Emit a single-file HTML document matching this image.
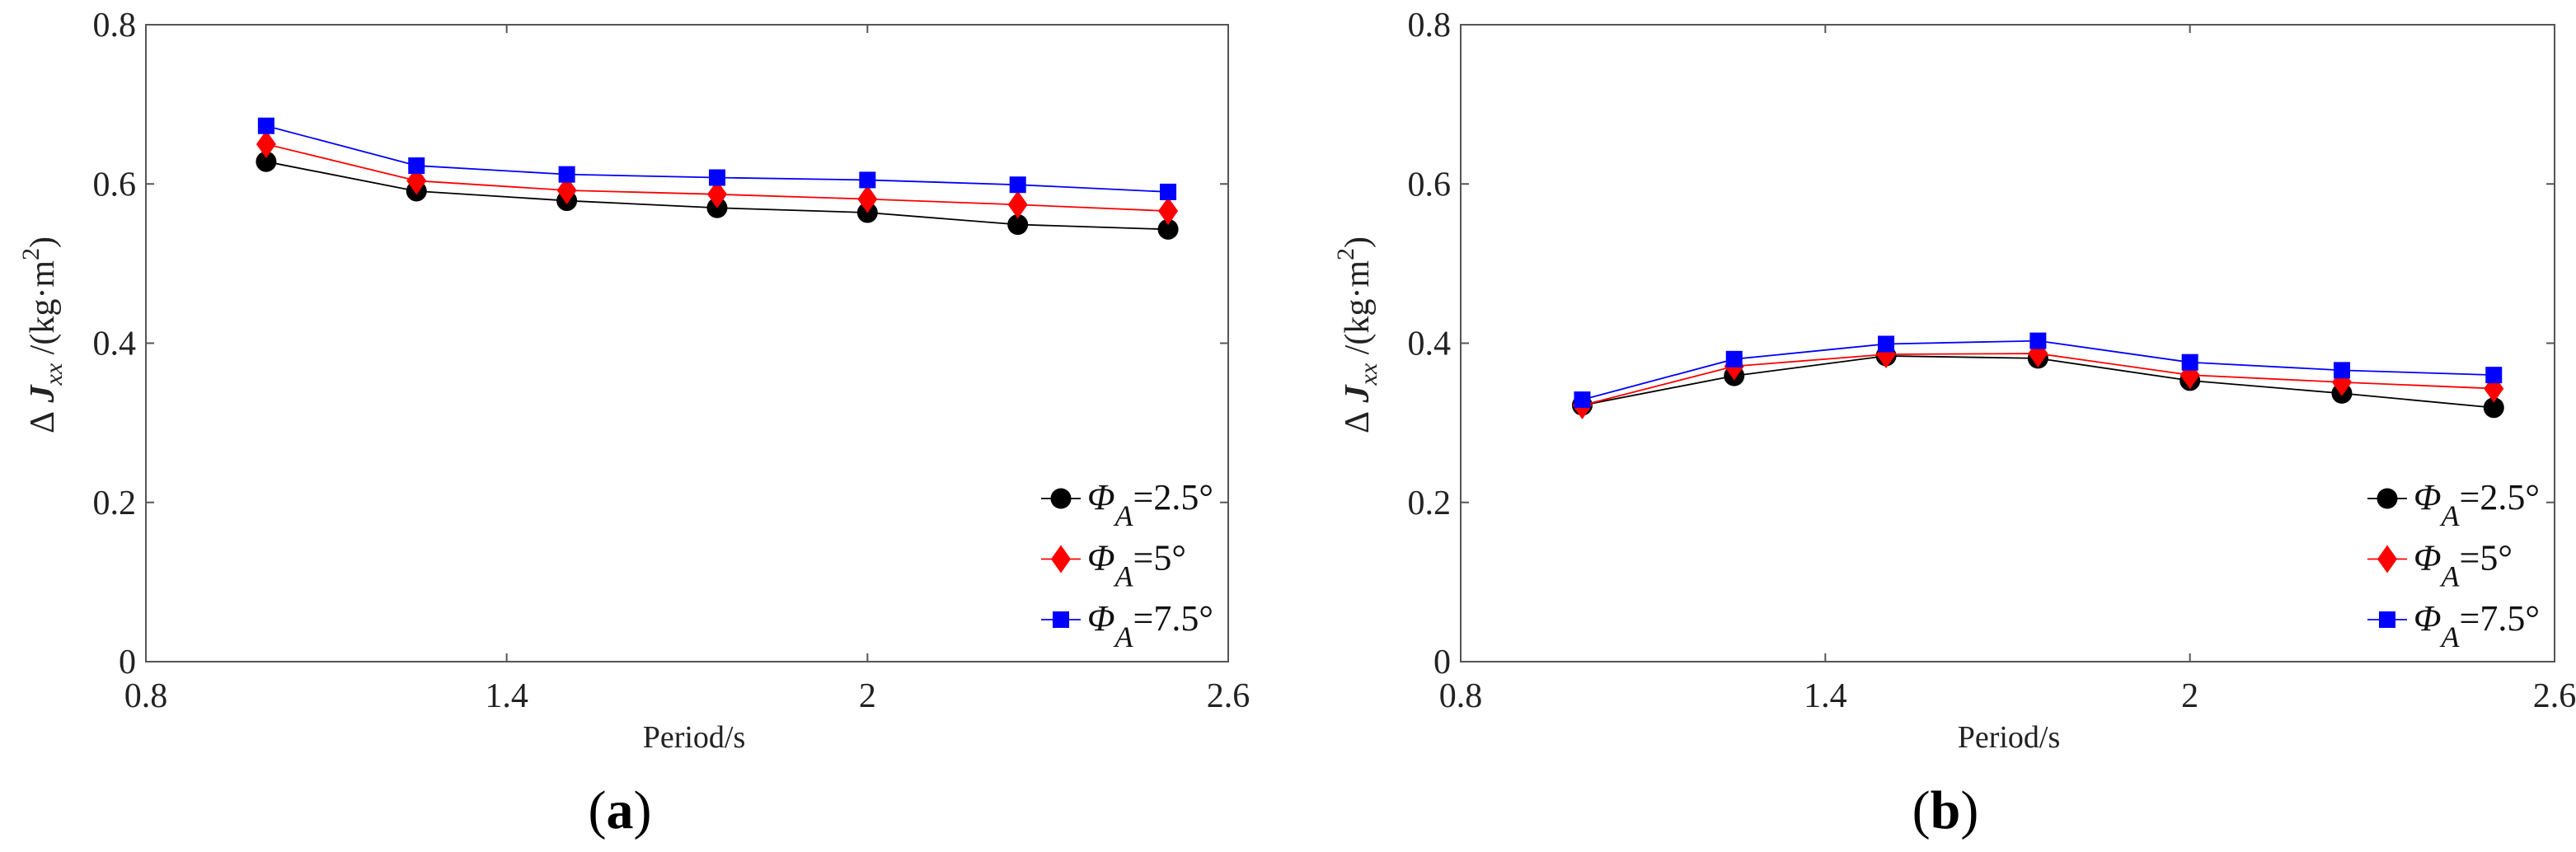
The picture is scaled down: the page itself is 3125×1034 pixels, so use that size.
<!DOCTYPE html>
<html><head><meta charset="utf-8"><style>
body{margin:0;background:#fff}
svg{display:block}
svg text{font-family:"Liberation Serif","Times New Roman",serif !important}
</style></head><body>
<svg id="fig" width="3125" height="1034" viewBox="0 0 3125 1034" xmlns="http://www.w3.org/2000/svg" font-family="Liberation Serif, serif"></svg>
<script>
const periods = [1.0, 1.25, 1.5, 1.75, 2.0, 2.25, 2.5];
const aBlack = [0.628, 0.591, 0.579, 0.570, 0.564, 0.549, 0.543];
const aRed   = [0.650, 0.604, 0.592, 0.587, 0.581, 0.574, 0.566];
const aBlue  = [0.673, 0.623, 0.612, 0.608, 0.605, 0.599, 0.590];
const bBlack = [0.322, 0.359, 0.384, 0.381, 0.353, 0.337, 0.319];
const bRed   = [0.322, 0.371, 0.386, 0.387, 0.360, 0.351, 0.343];
const bBlue  = [0.329, 0.380, 0.399, 0.403, 0.376, 0.366, 0.360];
const xTicks = [0.8, 1.4, 2, 2.6];
const xTickLabels = ["0.8", "1.4", "2", "2.6"];
const yTicks = [0, 0.2, 0.4, 0.6, 0.8];
const yTickLabels = ["0", "0.2", "0.4", "0.6", "0.8"];
const legendLabels = ["=2.5°", "=5°", "=7.5°"];

const NS = "http://www.w3.org/2000/svg";
const svg = document.getElementById("fig");
function mk(tag, attrs, parent) {
  const e = document.createElementNS(NS, tag);
  for (const k in attrs) e.setAttribute(k, attrs[k]);
  if (tag === "text") e.setAttribute("font-family", "Liberation Serif, serif");
  (parent || svg).appendChild(e);
  return e;
}

function panel(left, right, top, bottom, black, red, blue, tag, labelX) {
  const g = mk("g", {});
  
  
  const xs = v => left + (v - 0.8) / 1.8 * (right - left);
  const ys = v => bottom - v / 0.8 * (bottom - top);
  const frame = mk("rect", {x: left, y: top, width: right - left, height: bottom - top, fill: "none", stroke: "#555", "stroke-width": 2}, g);
  
  
  xTicks.forEach((t, i) => {
    const x = xs(t);
    mk("line", {x1: x, x2: x, y1: bottom, y2: bottom - 10, stroke: "#555", "stroke-width": 2}, g);
    mk("line", {x1: x, x2: x, y1: top, y2: top + 10, stroke: "#555", "stroke-width": 2}, g);
    const tx = mk("text", {x: x, y: bottom + 55, "font-size": 42, "text-anchor": "middle", fill: "#222"}, g);
    tx.textContent = xTickLabels[i];
    
    
  });
  yTicks.forEach((t, i) => {
    const y = ys(t);
    mk("line", {x1: left, x2: left + 10, y1: y, y2: y, stroke: "#555", "stroke-width": 2}, g);
    mk("line", {x1: right, x2: right - 10, y1: y, y2: y, stroke: "#555", "stroke-width": 2}, g);
    const tx = mk("text", {x: left - 12, y: y + 14, "font-size": 42, "text-anchor": "end", fill: "#222"}, g);
    tx.textContent = yTickLabels[i];
    
    
  });
  const xt = mk("text", {x: left + 665, y: 907, "font-size": 38, "text-anchor": "middle", fill: "#222"}, g);
  xt.textContent = "Period/s";
  
  
  const yl = mk("text", {transform: `translate(${left - 112},${(top + bottom) / 2 - 10}) rotate(-90)`, "font-size": 42, "text-anchor": "middle", fill: "#222"}, g);
  yl.innerHTML = '&#916;<tspan font-style="italic" font-weight="bold"> J</tspan><tspan font-style="italic" font-size="30" dy="10">xx</tspan><tspan dy="-10"> /(kg·m</tspan><tspan font-size="30" dy="-18">2</tspan><tspan dy="18">)</tspan>';
  
  
  const cap = mk("text", {x: labelX, y: 1005, "font-size": 66, "text-anchor": "middle", fill: "#000"}, g);
  cap.innerHTML = '(<tspan font-weight="bold">' + tag + '</tspan>)';
  
  

  const series = [[black, "#000", "circle"], [red, "#f00", "diamond"], [blue, "#00f", "square"]];
  function marker(type, cx, cy, color, parent) {
    let m;
    if (type === "circle") m = mk("circle", {cx: cx, cy: cy, r: 12.5, fill: color}, parent);
    else if (type === "diamond") m = mk("polygon", {points: `${cx},${cy - 17} ${cx + 12},${cy} ${cx},${cy + 17} ${cx - 12},${cy}`, fill: color}, parent);
    else m = mk("rect", {x: cx - 10, y: cy - 10, width: 20, height: 20, fill: color}, parent);
    return m;
  }
  const names = ["phi-2.5", "phi-5", "phi-7.5"];
  series.forEach((s, si) => {
    const sg = mk("g", {}, g);
    
    
    const pts = periods.map((p, i) => xs(p) + "," + ys(s[0][i])).join(" ");
    mk("polyline", {points: pts, fill: "none", stroke: s[1], "stroke-width": 1.8}, sg);
    periods.forEach((p, i) => {
      const m = marker(s[2], xs(p), ys(s[0][i]), s[1], sg);
      
      
    });
    const ly = 605 + si * 73.5;
    const lx = right - 203;
    const lg = mk("g", {}, g);
    
    
    mk("line", {x1: lx - 24, x2: lx + 24, y1: ly, y2: ly, stroke: s[1], "stroke-width": 1.8}, lg);
    marker(s[2], lx, ly, s[1], lg);
    const lt = mk("text", {x: lx + 32, y: ly + 13, "font-size": 44, fill: "#111"}, lg);
    lt.innerHTML = '<tspan font-style="italic">Φ</tspan><tspan font-style="italic" font-size="36" dy="20">A</tspan><tspan dy="-20">' + legendLabels[si] + '</tspan>';
  });
}
panel(177, 1490, 30, 803, aBlack, aRed, aBlue, "a", 752);
panel(1772, 3099, 30, 803, bBlack, bRed, bBlue, "b", 2360);
</script>
</body></html>
